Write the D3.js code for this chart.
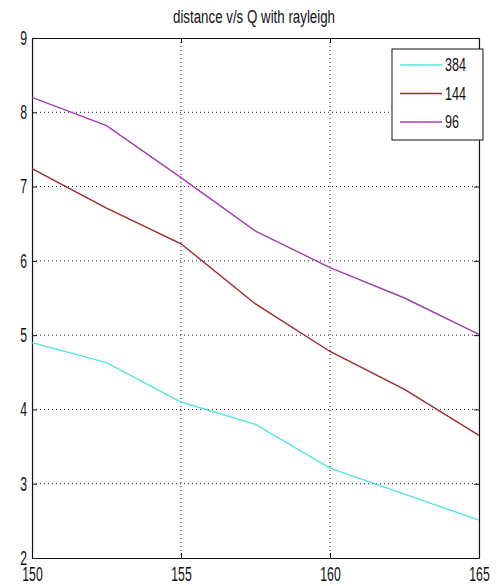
<!DOCTYPE html>
<html>
<head>
<meta charset="utf-8">
<script src="https://cdn.jsdelivr.net/npm/d3@7"></script>
<style>
    body { margin: 0; background: #fff; }
    text { font-family: "Liberation Sans Narrow", "Liberation Sans", "DejaVu Sans Condensed", sans-serif; fill: #111; }
</style>
</head>
<body>
<div id="chart"></div>
<script>
"use strict"

// data
var q_values = [150, 152.5, 155, 157.5, 160, 162.5, 165]
var series_names = ["384", "144", "96"]
var dist_384 = [4.90, 4.63, 4.10, 3.80, 3.21, 2.86, 2.51]
var dist_144 = [7.24, 6.71, 6.23, 5.42, 4.78, 4.27, 3.65]
var dist_96 = [8.20, 7.82, 7.12, 6.40, 5.91, 5.50, 5.01]
var x_ticks = [150, 155, 160, 165]
var y_ticks = [2, 3, 4, 5, 6, 7, 8, 9]
var chart_title = "distance v/s Q with rayleigh"

var settings = {
    width: 497,
    height: 586,
    left: 32,
    right: 479,
    top: 38,
    bottom: 558,
    digit_w: 6.8,  // matlab's tall narrow digits
    colors: ["#55e3e3", "#9e2a2a", "#a23fb0"]
}

var svg = d3.select("#chart").append("svg")
    .attr("width", settings.width)
    .attr("height", settings.height)

var x = d3.scaleLinear().domain([150, 165]).range([settings.left, settings.right])
var y = d3.scaleLinear().domain([2, 9]).range([settings.bottom, settings.top])

// dotted grid
svg.append("g").selectAll("line")
    .data(x_ticks.slice(1, -1))
    .enter().append("line")
    .attr("x1", function(d) { return x(d) }).attr("x2", function(d) { return x(d) })
    .attr("y1", settings.top).attr("y2", settings.bottom)
    .attr("stroke", "#222").attr("stroke-width", 1).attr("stroke-dasharray", "1,3")

svg.append("g").selectAll("line")
    .data(y_ticks.slice(1, -1))
    .enter().append("line")
    .attr("y1", function(d) { return y(d) }).attr("y2", function(d) { return y(d) })
    .attr("x1", settings.left).attr("x2", settings.right)
    .attr("stroke", "#222").attr("stroke-width", 1).attr("stroke-dasharray", "1,3")

// axes with inward ticks, MATLAB box style
var fmt = d3.format("d")
var x_bottom = d3.axisBottom(x).tickValues(x_ticks).tickFormat(fmt).tickSizeInner(-5).tickSizeOuter(0).tickPadding(9)
var x_top = d3.axisTop(x).tickValues(x_ticks).tickSizeInner(-5).tickSizeOuter(0).tickFormat("")
var y_left = d3.axisLeft(y).tickValues(y_ticks).tickFormat(fmt).tickSizeInner(-5).tickSizeOuter(0).tickPadding(5)
var y_right = d3.axisRight(y).tickValues(y_ticks).tickSizeInner(-5).tickSizeOuter(0).tickFormat("")

svg.append("g").attr("transform", "translate(0," + settings.bottom + ")").call(x_bottom)
svg.append("g").attr("transform", "translate(0," + settings.top + ")").call(x_top)
svg.append("g").attr("transform", "translate(" + settings.left + ",0)").call(y_left)
svg.append("g").attr("transform", "translate(" + settings.right + ",0)").call(y_right)

svg.selectAll(".domain").attr("stroke", "#111").attr("stroke-width", 1.2)
svg.selectAll(".tick line").attr("stroke", "#111")
svg.selectAll(".tick text")
    .attr("font-size", 20)
    .attr("font-family", null)
    .style("fill", "#111")
    .attr("textLength", function() { return this.textContent.length * settings.digit_w })
    .attr("lengthAdjust", "spacingAndGlyphs")

// lines
var linefunc = d3.line()
    .x(function(d) { return x(d.q) })
    .y(function(d) { return y(d.v) })

var all_series = [dist_384, dist_144, dist_96]
for (var i = 0; i < all_series.length; i++) {
    var pts = []
    for (var j = 0; j < q_values.length; j++) {
        pts.push({ q: q_values[j], v: all_series[i][j] })
    }
    svg.append("path")
        .attr("d", linefunc(pts))
        .attr("fill", "none")
        .attr("stroke", settings.colors[i])
        .attr("stroke-width", 1.4)
}

// title
svg.append("text")
    .attr("x", 254)
    .attr("y", 23)
    .attr("text-anchor", "middle")
    .attr("font-size", 18)
    .attr("textLength", 162)
    .attr("lengthAdjust", "spacingAndGlyphs")
    .text(chart_title)

// legend
var legend = svg.append("g").attr("transform", "translate(392,49)")
legend.append("rect")
    .attr("width", 91).attr("height", 91)
    .attr("fill", "#fff").attr("stroke", "#111").attr("stroke-width", 1)

var rows = legend.selectAll("g.row")
    .data(series_names)
    .enter().append("g")
    .attr("class", "row")
    .attr("transform", function(d, i) { return "translate(0," + (16 + i * 28.5) + ")" })

rows.append("line")
    .attr("x1", 8).attr("x2", 50)
    .attr("stroke", function(d, i) { return settings.colors[i] })
    .attr("stroke-width", 1.4)

rows.append("text")
    .attr("x", 53).attr("dy", "0.36em")
    .attr("font-size", 18)
    .attr("textLength", function(d) { return d.length * 7 })
    .attr("lengthAdjust", "spacingAndGlyphs")
    .text(function(d) { return d })
</script>
</body>
</html>
